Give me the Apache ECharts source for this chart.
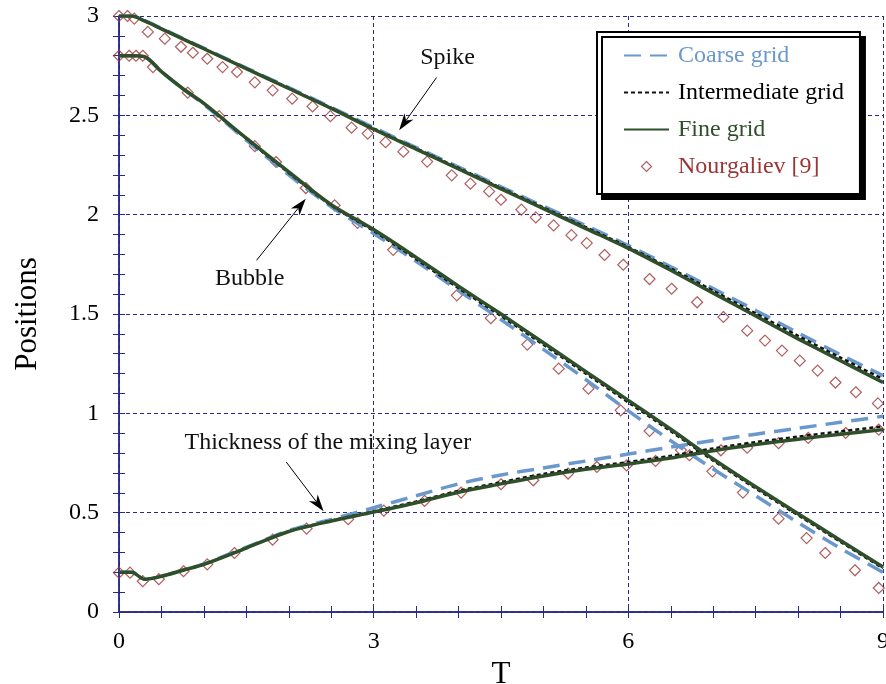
<!DOCTYPE html>
<html>
<head>
<meta charset="utf-8">
<script src="https://cdn.jsdelivr.net/npm/echarts@6/dist/echarts.min.js"></script>
<style>
  html, body { margin: 0; padding: 0; background: #fff; }
  #chart { width: 886px; height: 684px; }
</style>
</head>
<body>
<div id="chart"></div>
<script>
// line samples (T)
const tLine = [0, 0.15, 0.3, 0.5, 0.75, 1, 1.5, 2, 2.5, 3, 3.5, 4, 4.5, 5, 5.5, 6, 6.5, 7, 7.5, 8, 8.5, 9]

// spike position
const spikeCoarse = [3.0, 3.0, 2.978, 2.938, 2.888, 2.838, 2.738, 2.64, 2.54, 2.438, 2.338, 2.24, 2.14, 2.042, 1.945, 1.845, 1.738, 1.628, 1.518, 1.405, 1.295, 1.19]
const spikeInter  = [3.0, 3.0, 2.976, 2.936, 2.886, 2.836, 2.736, 2.637, 2.537, 2.434, 2.334, 2.235, 2.135, 2.036, 1.937, 1.837, 1.729, 1.617, 1.503, 1.39, 1.28, 1.172]
const spikeFine   = [3.0, 3.0, 2.975, 2.935, 2.885, 2.835, 2.735, 2.635, 2.535, 2.43, 2.33, 2.23, 2.13, 2.03, 1.93, 1.83, 1.72, 1.605, 1.49, 1.375, 1.265, 1.155]

// bubble position
const bubbleCoarse = [2.8, 2.8, 2.795, 2.72, 2.635, 2.555, 2.375, 2.2, 2.04, 1.905, 1.765, 1.618, 1.472, 1.322, 1.17, 1.012, 0.862, 0.72, 0.585, 0.45, 0.32, 0.2]
const bubbleInter  = [2.8, 2.8, 2.795, 2.72, 2.635, 2.558, 2.382, 2.21, 2.046, 1.918, 1.776, 1.63, 1.49, 1.345, 1.2, 1.055, 0.91, 0.762, 0.622, 0.487, 0.353, 0.22]
const bubbleFine   = [2.8, 2.8, 2.795, 2.72, 2.635, 2.56, 2.385, 2.215, 2.05, 1.925, 1.785, 1.64, 1.5, 1.355, 1.21, 1.065, 0.92, 0.77, 0.63, 0.495, 0.36, 0.226]

// thickness of the mixing layer
const thickCoarse = [0.2, 0.2, 0.165, 0.18, 0.21, 0.242, 0.326, 0.41, 0.466, 0.525, 0.585, 0.645, 0.69, 0.725, 0.76, 0.795, 0.83, 0.863, 0.895, 0.925, 0.955, 0.985]
const thickInter  = [0.2, 0.2, 0.165, 0.18, 0.21, 0.24, 0.323, 0.406, 0.46, 0.507, 0.556, 0.61, 0.653, 0.695, 0.727, 0.755, 0.786, 0.823, 0.855, 0.883, 0.909, 0.934]
const thickFine   = [0.2, 0.2, 0.165, 0.18, 0.21, 0.24, 0.322, 0.405, 0.458, 0.503, 0.55, 0.603, 0.645, 0.685, 0.718, 0.745, 0.775, 0.812, 0.843, 0.87, 0.895, 0.918]

// Nourgaliev [9]
const tRefSpike = [0, 0.1, 0.18, 0.34, 0.54, 0.73, 0.87, 1.04, 1.22, 1.39, 1.6, 1.81, 2.04, 2.28, 2.49, 2.74, 2.93, 3.14, 3.35, 3.63, 3.92, 4.14, 4.36, 4.5, 4.74, 4.91, 5.12, 5.33, 5.51, 5.72, 5.94, 6.25, 6.51, 6.81, 7.12, 7.4, 7.61, 7.81, 8.02, 8.23, 8.44, 8.68, 8.94]
const refSpike  = [3, 3, 2.987, 2.92, 2.886, 2.845, 2.815, 2.785, 2.743, 2.718, 2.666, 2.626, 2.584, 2.545, 2.496, 2.438, 2.408, 2.365, 2.317, 2.267, 2.198, 2.156, 2.117, 2.075, 2.025, 1.986, 1.946, 1.897, 1.857, 1.797, 1.748, 1.676, 1.627, 1.559, 1.485, 1.416, 1.366, 1.316, 1.265, 1.215, 1.155, 1.106, 1.05]
const tRefBubble = [0, 0.12, 0.2, 0.28, 0.4, 0.81, 1.18, 1.6, 1.85, 2.2, 2.54, 2.81, 3.23, 3.98, 4.38, 4.81, 5.18, 5.53, 5.91, 6.25, 6.62, 6.99, 7.35, 7.77, 8.1, 8.32, 8.67, 8.95]
const refBubble  = [2.8, 2.8, 2.8, 2.8, 2.743, 2.614, 2.496, 2.345, 2.265, 2.134, 2.047, 1.958, 1.823, 1.594, 1.479, 1.346, 1.225, 1.124, 1.015, 0.911, 0.815, 0.708, 0.601, 0.47, 0.372, 0.297, 0.21, 0.121]
const tRefThick = [0, 0.13, 0.28, 0.47, 0.76, 1.04, 1.36, 1.81, 2.21, 2.7, 3.12, 3.6, 4.03, 4.5, 4.88, 5.29, 5.63, 5.98, 6.32, 6.72, 7.09, 7.4, 7.77, 8.12, 8.56, 8.95]
const refThick  = [0.198, 0.198, 0.155, 0.165, 0.205, 0.24, 0.297, 0.364, 0.42, 0.467, 0.51, 0.559, 0.601, 0.643, 0.663, 0.697, 0.73, 0.738, 0.76, 0.789, 0.814, 0.827, 0.85, 0.876, 0.901, 0.918]

// annotations (data coords)
const noteText = ['Spike', 'Bubble', 'Thickness of the mixing layer']
const notePos = [[3.87, 2.79], [1.54, 1.68], [2.46, 0.85]]
const arrowFrom = [[3.74, 2.69], [1.62, 1.77], [1.97, 0.755]]
const arrowTo = [[3.3, 2.425], [2.2, 2.08], [2.41, 0.507]]

const NAVY = '#27278f'
const FONT = 'Liberation Serif'
const C_COARSE = '#6a98cc'
const C_INTER = '#111111'
const C_FINE = '#2f4f2a'
const C_REF = '#9c3636'

// small diamond centred in a 45x12 legend box (the corner moves only set the box)
const LEGEND_DIAMOND = 'path://M0,0L0,0M45,12L45,12M22.5,1L27.5,6L22.5,11L17.5,6Z'

const pairs = (xs, ys) => xs.map((x, i) => [x, ys[i]])

const chart = echarts.init(document.getElementById('chart'))

const lineSeries = (name, ys, style, z) => ({
    name,
    type: 'line',
    data: pairs(tLine, ys),
    symbol: 'none',
    smooth: 0.3,
    z,
    lineStyle: style,
    itemStyle: { color: style.color },
})

const coarseStyle = { color: C_COARSE, width: 3.5, type: [17, 9] }
const interStyle = { color: C_INTER, width: 2.5, type: [4, 3] }
const fineStyle = { color: C_FINE, width: 3.5, type: 'solid' }

const refSeries = (ts, ys) => ({
    name: 'Nourgaliev [9]',
    type: 'scatter',
    data: pairs(ts, ys),
    symbol: 'diamond',
    symbolSize: 11,
    z: 1,
    itemStyle: { color: 'rgba(0,0,0,0)', borderColor: C_REF, borderWidth: 1.2 },
})

const tickAxis = {
    axisLine: { show: true, lineStyle: { color: NAVY, width: 1.5 } },
    axisTick: { show: true, inside: true, length: 6, lineStyle: { color: NAVY, width: 1 } },
    minorTick: { show: true, length: 6, lineStyle: { color: NAVY, width: 1 } },
}

const hideSymbol = { color: 'rgba(0,0,0,0)', opacity: 0, borderWidth: 0 }

const option = {
    backgroundColor: '#ffffff',
    animation: false,
    textStyle: { fontFamily: FONT },
    grid: { left: 119, top: 16, right: 3, bottom: 72, containLabel: false, outerBoundsMode: 'none' },
    legend: {
        orient: 'vertical',
        left: 597,
        top: 32,
        itemWidth: 45,
        itemHeight: 12,
        itemGap: 12,
        padding: [11, 16, 15, 26],
        backgroundColor: '#ffffff',
        borderColor: '#000000',
        borderWidth: 2,
        shadowColor: '#000000',
        shadowOffsetX: 5,
        shadowOffsetY: 5,
        shadowBlur: 0,
        textStyle: { fontSize: 24, fontFamily: FONT, lineHeight: 25, padding: [0, 0, 0, 4] },
        data: [
            { name: 'Coarse grid', textStyle: { color: C_COARSE }, itemStyle: hideSymbol },
            { name: 'Intermediate grid', textStyle: { color: '#000' }, itemStyle: hideSymbol },
            { name: 'Fine grid', textStyle: { color: C_FINE }, itemStyle: hideSymbol },
            {
                name: 'Nourgaliev [9]', icon: LEGEND_DIAMOND, textStyle: { color: C_REF },
                itemStyle: { color: 'rgba(0,0,0,0)', borderColor: C_REF, borderWidth: 1.2 },
            },
        ],
    },
    xAxis: [
        Object.assign({
            type: 'value', min: 0, max: 9, interval: 3, position: 'bottom',
            name: 'T', nameLocation: 'middle', nameGap: 46,
            nameTextStyle: { fontSize: 31, color: '#000', fontFamily: FONT },
            axisLabel: { color: '#000', fontSize: 24, fontFamily: FONT, margin: 18 },
            splitLine: { show: true, lineStyle: { color: NAVY, width: 1, type: [4, 3] } },
        }, tickAxis, { minorTick: Object.assign({ splitNumber: 6 }, tickAxis.minorTick) }),
        Object.assign({
            type: 'value', min: 0, max: 9, interval: 3, position: 'top',
            axisLabel: { show: false }, splitLine: { show: false },
        }, tickAxis, { minorTick: Object.assign({ splitNumber: 6 }, tickAxis.minorTick) }),
    ],
    yAxis: [
        Object.assign({
            type: 'value', min: 0, max: 3, interval: 0.5, position: 'left',
            name: 'Positions', nameLocation: 'middle', nameGap: 76,
            nameTextStyle: { fontSize: 31, color: '#000', fontFamily: FONT },
            axisLabel: { color: '#000', fontSize: 24, fontFamily: FONT, margin: 20 },
            splitLine: { show: true, lineStyle: { color: NAVY, width: 1, type: [4, 3] } },
        }, tickAxis, { minorTick: Object.assign({ splitNumber: 5 }, tickAxis.minorTick) }),
        Object.assign({
            type: 'value', min: 0, max: 3, interval: 0.5, position: 'right',
            axisLabel: { show: false }, splitLine: { show: false },
        }, tickAxis, { minorTick: Object.assign({ splitNumber: 5 }, tickAxis.minorTick) }),
    ],
    series: [
        refSeries(tRefSpike, refSpike),
        refSeries(tRefBubble, refBubble),
        refSeries(tRefThick, refThick),
        lineSeries('Coarse grid', spikeCoarse, coarseStyle, 2),
        lineSeries('Coarse grid', bubbleCoarse, coarseStyle, 2),
        lineSeries('Coarse grid', thickCoarse, coarseStyle, 2),
        lineSeries('Intermediate grid', spikeInter, interStyle, 3),
        lineSeries('Intermediate grid', bubbleInter, interStyle, 3),
        lineSeries('Intermediate grid', thickInter, interStyle, 3),
        lineSeries('Fine grid', spikeFine, fineStyle, 4),
        lineSeries('Fine grid', bubbleFine, fineStyle, 4),
        lineSeries('Fine grid', thickFine, fineStyle, 4),
    ],
}

chart.setOption(option)

// annotation texts and arrows
const toPx = (p) => chart.convertToPixel({ gridIndex: 0 }, p)

const arrowGraphic = (from, to) => {
    const a = toPx(from)
    const b = toPx(to)
    const dx = b[0] - a[0]
    const dy = b[1] - a[1]
    const len = Math.sqrt(dx * dx + dy * dy)
    const ux = dx / len
    const uy = dy / len
    const nx = -uy
    const ny = ux
    const headLen = 17
    const halfW = 5.5
    const notch = 12
    const base = [b[0] - ux * headLen, b[1] - uy * headLen]
    const mid = [b[0] - ux * notch, b[1] - uy * notch]
    return [
        {
            type: 'line',
            shape: { x1: a[0], y1: a[1], x2: mid[0], y2: mid[1] },
            style: { stroke: '#000', lineWidth: 1 },
            z: 100,
        },
        {
            type: 'polygon',
            shape: { points: [b, [base[0] + nx * halfW, base[1] + ny * halfW], mid, [base[0] - nx * halfW, base[1] - ny * halfW]] },
            style: { fill: '#000' },
            z: 100,
        },
    ]
}

const graphics = []
noteText.forEach((t, i) => {
    const p = toPx(notePos[i])
    graphics.push({
        type: 'text',
        x: p[0],
        y: p[1],
        z: 100,
        style: { text: t, fill: '#111', font: '24px "' + FONT + '"', align: 'center', verticalAlign: 'middle' },
    })
    graphics.push(...arrowGraphic(arrowFrom[i], arrowTo[i]))
})

chart.setOption({ graphic: graphics })
</script>
</body>
</html>
